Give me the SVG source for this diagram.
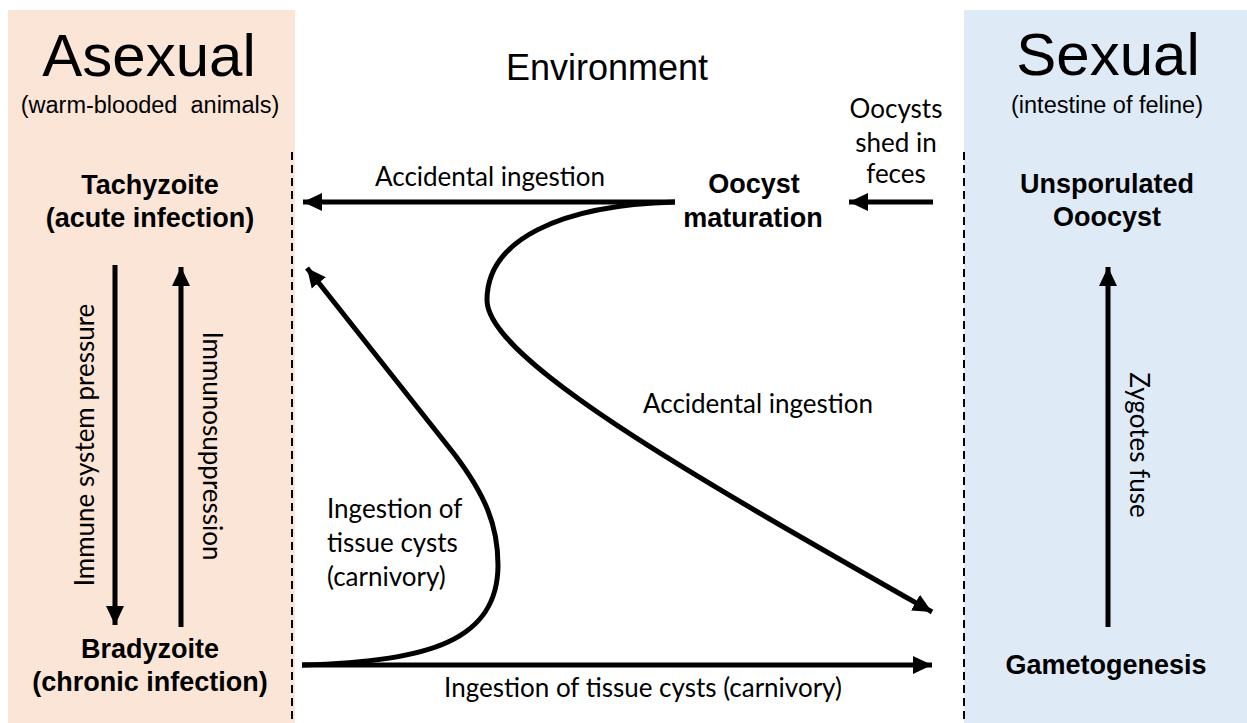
<svg xmlns="http://www.w3.org/2000/svg" width="1247" height="723" viewBox="0 0 1247 723">
<style>
.title{font-family:"Liberation Sans",Arial,sans-serif;font-size:60px;fill:#000;text-anchor:middle}
.sub{font-family:"Liberation Sans",Arial,sans-serif;font-size:23.5px;fill:#000;text-anchor:middle}
.env{font-family:"Liberation Sans",Arial,sans-serif;font-size:36px;fill:#000;text-anchor:middle}
.bold{font-family:"Liberation Sans",Arial,sans-serif;font-size:27px;font-weight:bold;fill:#000;text-anchor:middle}
.lbl{font-family:Lato,"Liberation Sans",sans-serif;font-size:26px;fill:#000}
.mid{text-anchor:middle}
.conn{fill:none;stroke:#000;stroke-width:5}
.dash{stroke:#000;stroke-width:2;stroke-dasharray:8,5}
</style>
<defs>
<marker id="ah" markerUnits="userSpaceOnUse" markerWidth="22" markerHeight="22" viewBox="0 0 22 22" refX="19" refY="11" orient="auto">
<path d="M0,2 L19,11 L0,20 Z" fill="#000"/>
</marker>
</defs>
<rect width="1247" height="723" fill="#fff"/>
<g id="panel-asexual">
<rect x="8" y="10" width="287" height="713" fill="#FBE5D6"/>
<line class="dash" x1="292" y1="152" x2="292" y2="723"/>
<text class="title" x="149" y="76">Asexual</text>
<text class="sub" x="150" y="113" xml:space="preserve">(warm-blooded  animals)</text>
</g>
<g id="panel-sexual">
<rect x="964" y="10" width="283" height="713" fill="#DEEBF7"/>
<line class="dash" x1="964" y1="152" x2="964" y2="723"/>
<text class="title" x="1108" y="75">Sexual</text>
<text class="sub" x="1107" y="113">(intestine of feline)</text>
</g>
<g id="environment">
<text class="env" x="607" y="80">Environment</text>
</g>
<g id="tachyzoite">
<text class="bold" x="150" y="194">Tachyzoite</text>
<text class="bold" x="150" y="227">(acute infection)</text>
</g>
<g id="bradyzoite">
<text class="bold" x="150" y="658">Bradyzoite</text>
<text class="bold" x="150" y="691">(chronic infection)</text>
</g>
<g id="oocyst-maturation">
<text class="bold" x="754" y="193">Oocyst</text>
<text class="bold" x="753" y="227">maturation</text>
</g>
<g id="unsporulated">
<text class="bold" x="1107" y="193">Unsporulated</text>
<text class="bold" x="1107" y="226">Ooocyst</text>
</g>
<g id="gametogenesis">
<text class="bold" x="1106" y="674">Gametogenesis</text>
</g>
<g id="connectors">
<line class="conn" x1="675" y1="202" x2="303" y2="202" marker-end="url(#ah)"/>
<line class="conn" x1="933" y1="202" x2="849" y2="202" marker-end="url(#ah)"/>
<path class="conn" d="M675,202 C560,205 487,240 487,300 C487,360 700,480 932,612" marker-end="url(#ah)"/>
<line class="conn" x1="302" y1="665" x2="932" y2="665" marker-end="url(#ah)"/>
<path class="conn" d="M302,665 C430,662 498,640 498,565 C498,525 485,495 455,455 L307,268" marker-end="url(#ah)"/>
<line class="conn" x1="115" y1="265" x2="115" y2="625" marker-end="url(#ah)"/>
<line class="conn" x1="181" y1="627" x2="181" y2="267" marker-end="url(#ah)"/>
<line class="conn" x1="1108" y1="627" x2="1108" y2="267" marker-end="url(#ah)"/>
<text class="lbl mid" x="490" y="186">Accidental ingestion</text>
<text class="lbl mid" x="758" y="413">Accidental ingestion</text>
<text class="lbl mid" x="896" y="118">Oocysts</text>
<text class="lbl mid" x="896" y="152">shed in</text>
<text class="lbl mid" x="896" y="183">feces</text>
<text class="lbl" x="327" y="518">Ingestion of</text>
<text class="lbl" x="327" y="552">tissue cysts</text>
<text class="lbl" x="327" y="586">(carnivory)</text>
<text class="lbl mid" x="643" y="697">Ingestion of tissue cysts (carnivory)</text>
<text class="lbl mid" transform="translate(94,445) rotate(-90)">Immune system pressure</text>
<text class="lbl mid" transform="translate(203,446) rotate(90)">Immunosuppression</text>
<text class="lbl mid" transform="translate(1130,445) rotate(90)">Zygotes fuse</text>
</g>
</svg>
